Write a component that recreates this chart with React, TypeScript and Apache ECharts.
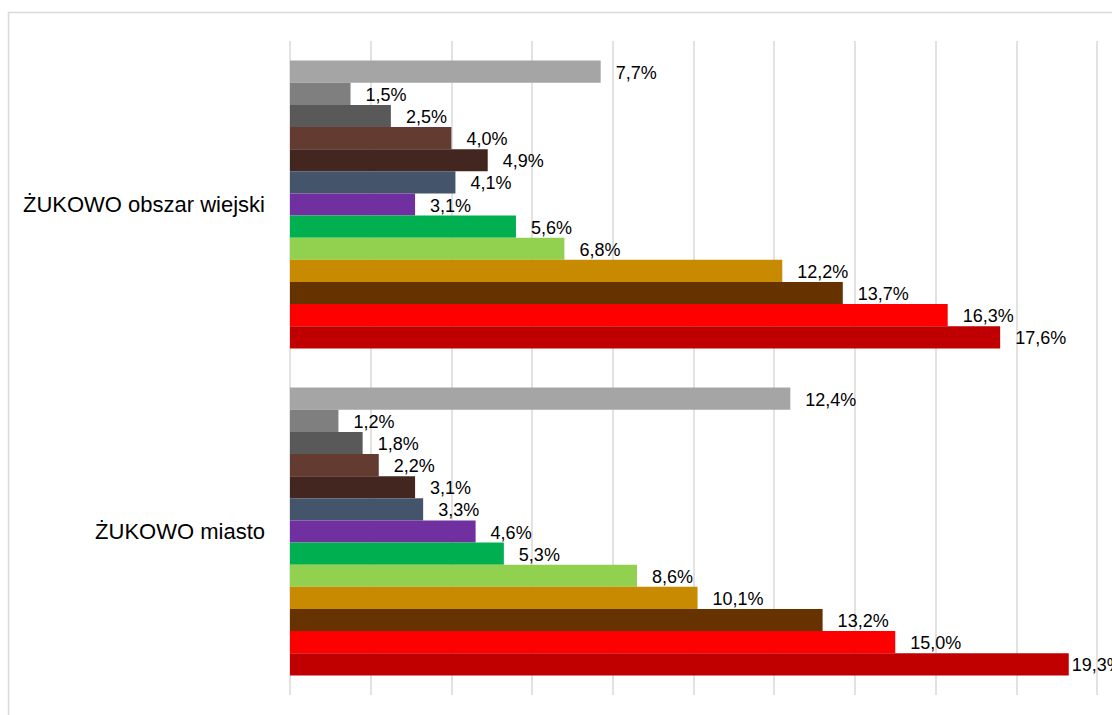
import React, { useEffect, useRef } from "react";
import * as echarts from "echarts";

const categories = ["ŻUKOWO miasto", "ŻUKOWO obszar wiejski"];
const valuesWiejski = [7.7, 1.5, 2.5, 4.0, 4.9, 4.1, 3.1, 5.6, 6.8, 12.2, 13.7, 16.3, 17.6];
const valuesMiasto = [12.4, 1.2, 1.8, 2.2, 3.1, 3.3, 4.6, 5.3, 8.6, 10.1, 13.2, 15.0, 19.3];
const barColors = [
  "#A5A5A5", "#7F7F7F", "#595959", "#643B31", "#42261F", "#44546A", "#7030A0",
  "#00B050", "#92D050", "#C78A00", "#663300", "#FF0000", "#C00000",
];
const axisMax = 22;
const axisInterval = 2;

const fmt = (v: number) => `${v.toFixed(1).replace(".", ",")}%`;

export default function App() {
  const ref = useRef<HTMLDivElement>(null);
  useEffect(() => {
    if (!ref.current) return;
    const chart = echarts.init(ref.current, null, { renderer: "svg" });
    const series = barColors.map((color, i) => ({
      type: "bar",
      name: `s${i}`,
      barGap: "0%",
      barCategoryGap: "12%",
      itemStyle: { color },
      label: {
        show: true,
        position: "right",
        distance: 15,
        offset: [0, 1],
        color: "#000",
        fontSize: 18,
        fontFamily: "Liberation Sans, Arial, sans-serif",
        formatter: (p: any) => fmt(p.value),
      },
      data: [valuesMiasto[i], valuesWiejski[i]].map((v) =>
        v > 19 ? { value: v, label: { distance: 3 } } : v
      ),
    }));
    chart.setOption({
      animation: false,
      backgroundColor: "#fff",
      graphic: [
        {
          type: "rect",
          z: -10,
          shape: { x: 8.5, y: 12.5, width: 1300, height: 900 },
          style: { fill: "none", stroke: "#D9D9D9", lineWidth: 1.5 },
        },
      ],
      grid: {
        left: 290,
        top: 41,
        width: axisMax * 40.35,
        height: 654,
        outerBoundsMode: "none",
        containLabel: false,
      },
      xAxis: {
        type: "value",
        min: 0,
        max: axisMax,
        interval: axisInterval,
        axisLabel: { show: false },
        axisLine: { show: false },
        axisTick: { show: false },
        splitLine: { show: true, lineStyle: { color: "#D9D9D9", width: 1.5 } },
      },
      yAxis: {
        type: "category",
        data: categories,
        axisLine: { show: false },
        axisTick: { show: false },
        axisLabel: {
          margin: 25,
          fontSize: 22,
          color: "#000",
          fontFamily: "Liberation Sans, Arial, sans-serif",
        },
      },
      series,
    });
    return () => chart.dispose();
  }, []);
  return (
    <div
      ref={ref}
      style={{ position: "fixed", left: 0, top: 0, width: 1112, height: 715 }}
    />
  );
}
